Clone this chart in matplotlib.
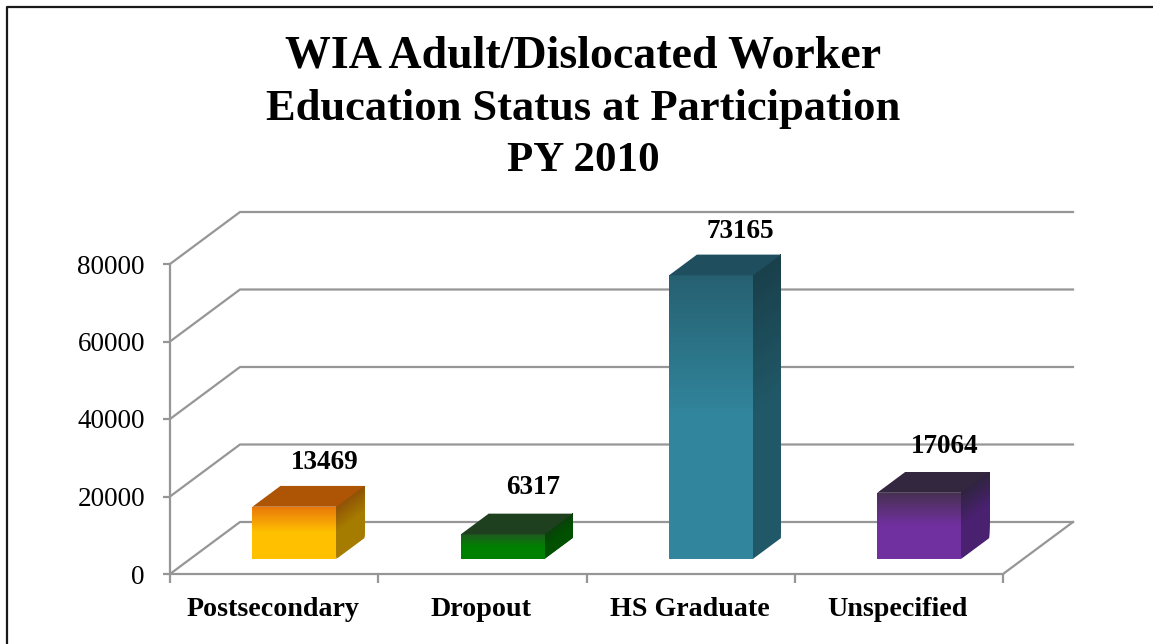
import matplotlib
matplotlib.use("Agg")
import matplotlib.pyplot as plt
import numpy as np
from matplotlib.colors import to_rgb

categories = ["Postsecondary", "Dropout", "HS Graduate", "Unspecified"]
values = [13469, 6317, 73165, 17064]
y_ticks = [0, 20000, 40000, 60000, 80000]
title_lines = ["WIA Adult/Dislocated Worker", "Education Status at Participation", "PY 2010"]

# colours: top face, front (dark, light), side (dark, light)
top_colors = ["#AD5505", "#1E401E", "#1F4E5F", "#33263F"]
front_dark = ["#E8760A", "#1F5A1F", "#255F70", "#463050"]
front_light = ["#FFC000", "#008000", "#31859C", "#7030A0"]
side_dark = ["#8F5206", "#0C400C", "#193F4A", "#2F2440"]
side_light = ["#A67C00", "#005000", "#205867", "#4A2070"]

plt.rcParams["font.family"] = ["Liberation Serif", "DejaVu Serif"]
grid_color = "#969696"

W, H = 1153, 644
fig = plt.figure(figsize=(W / 100, H / 100), dpi=100)
fig.patch.set_facecolor("white")

# outer frame, only left and top are inside the picture
fig.add_artist(plt.Line2D([7 / W, 7 / W, 1], [0, 1 - 7 / H, 1 - 7 / H],
                          color="#1a1a1a", lw=1.6, transform=fig.transFigure))

# the axes is the front plane of the 3D box
ax = fig.add_axes([170 / W, (H - 574) / H, 833 / W, 310 / H])
ax.set_xlim(0, 4)
ax.set_ylim(0, 80000)
ax.patch.set_visible(False)

# depth of the box in data units
depth_x = 70 / (833 / 4)
depth_y = 52 / 310 * 80000


def project(x, y, d):
    return x + d * depth_x, y + d * depth_y


def gradient_quad(p0, p1, c_top, c_bottom, height, stop=0.5, n=60):
    # p0, p1 are bottom corners, each strip runs to the top so no seams show
    c_top, c_bottom = np.array(to_rgb(c_top)), np.array(to_rgb(c_bottom))
    for i in range(n):
        t = i / n
        f = max(0, (t - (1 - stop)) / stop)
        c = c_bottom + (c_top - c_bottom) * f
        xs = [p0[0], p1[0], p1[0], p0[0]]
        ys = [p0[1] + t * height, p1[1] + t * height, p1[1] + height, p0[1] + height]
        ax.fill(xs, ys, color=c, lw=0, clip_on=False, zorder=3)


# back wall gridlines and left wall
for v in y_ticks:
    x1, y1 = project(0, v, 1)
    x2, y2 = project(4, v, 1)
    ax.plot([0, x1, x2], [v, y1, y2], color=grid_color, lw=1.6, clip_on=False, zorder=1)

# floor
x1, y1 = project(4, 0, 1)
ax.plot([4, x1], [0, y1], color=grid_color, lw=1.6, clip_on=False, zorder=1)

# bars
bar_w = 84 / (833 / 4)
d0, d1 = 0.29, 0.69
label_nudge = [(0, 0), (0, 2.5), (-1, 0), (-4, 2)]
for i, v in enumerate(values):
    xl = i + 0.5 - bar_w / 2
    xr = xl + bar_w
    a = project(xl, 0, d0)
    b = project(xr, 0, d0)
    c = project(xr, 0, d1)
    gradient_quad(b, c, side_dark[i], side_light[i], v)
    gradient_quad(a, b, front_dark[i], front_light[i], v)
    pts = [project(xl, v, d0), project(xr, v, d0), project(xr, v, d1), project(xl, v, d1)]
    ax.fill([p[0] for p in pts], [p[1] for p in pts], color=top_colors[i], lw=0,
            clip_on=False, zorder=3)
    # label
    lx, ly = project(i + 0.5, v, d1)
    ax.annotate(str(v), (lx, ly), xytext=(2 + label_nudge[i][0], 12 + label_nudge[i][1]),
                textcoords="offset points", ha="center", va="baseline", fontsize=19.5,
                fontweight="bold", color="black", annotation_clip=False, zorder=5)

# axes
for s in ["top", "right"]:
    ax.spines[s].set_visible(False)
for s in ["left", "bottom"]:
    ax.spines[s].set_color(grid_color)
    ax.spines[s].set_linewidth(1.6)
ax.set_yticks(y_ticks)
ax.set_yticklabels([str(v) for v in y_ticks], fontsize=19.5, color="black")
ax.set_xticks(range(5))
ax.set_xticklabels([])
ax.tick_params(axis="x", color=grid_color, width=1.6, length=6.5)
ax.tick_params(axis="y", color=grid_color, width=1.6, length=5, pad=13)
for i, name in enumerate(categories):
    ax.annotate(name, (i + 0.5 - 0.005, 0), xytext=(0, -30.5), textcoords="offset points", ha="center",
                va="baseline", fontsize=20.2, fontweight="bold", annotation_clip=False)

for line, base, size in zip(title_lines, [67, 120, 171], [33, 32, 31]):
    fig.text(583 / W, 1 - base / H, line, ha="center", va="baseline", fontsize=size, fontweight="bold")

fig.savefig("out.png", dpi=100)
